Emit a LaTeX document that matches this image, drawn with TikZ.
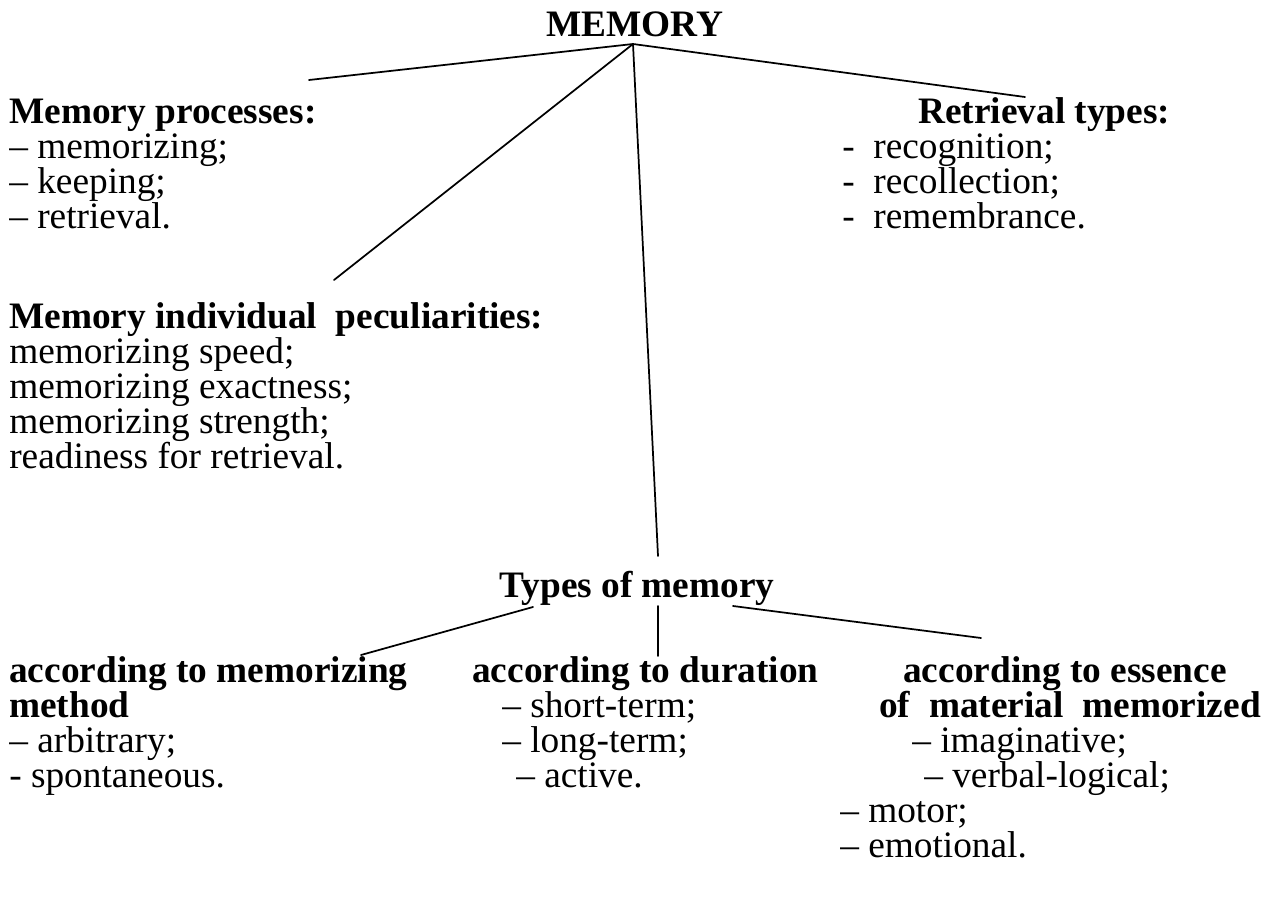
\documentclass[tikz,border=0pt]{standalone}
\usepackage{fontspec}
\setmainfont{Liberation Serif}
\tikzset{
  head/.style={
    anchor=base west,
    inner sep=0pt,
    font=\bfseries
  },
  item/.style={
    anchor=base west,
    inner sep=0pt
  },
  title/.style={
    anchor=base,
    inner sep=0pt,
    font=\bfseries
  },
  link/.style={line width=1.3pt, line cap=round}
}
\newcommand{\gap}{\hspace{0.5em}}

\begin{document}
\fontsize{28}{34}\selectfont
\begin{tikzpicture}[x=0.75pt, y=-0.75pt]
  \useasboundingbox (0,0) rectangle (1279,899);
  \node[title] (memory) at (635,37) {MEMORY};
  \node[head] (proc) at (9,123) {Memory processes:};
  \foreach \txt [count=\i] in {– memorizing;, – keeping;, – retrieval.}
    \node[item] (proc-\i) at (9,123+35*\i) {\txt};
  \node[head] (retr) at (918,123) {Retrieval types:};
  \foreach \txt [count=\i] in {recognition;, recollection;, remembrance.}
    \node[item] (retr-\i) at (842,123+35*\i) {-\gap\txt};
  \node[head] (indiv) at (9,328) {Memory individual\ \ peculiarities:};
  \foreach \txt [count=\i] in {memorizing speed;, memorizing exactness;,
      memorizing strength;, readiness for retrieval.}
    \node[item] (indiv-\i) at (9,328+35*\i) {\txt};
  \node[title] (types) at (637,597) {Types of memory};
  % according to memorizing method
  \node[head] (meth) at (9,682) {according to memorizing};
  \node[head] (meth-0) at (9,717) {method};
  \node[item] (meth-1) at (9,752) {– arbitrary;};
  \node[item] (meth-2) at (9,787) {- spontaneous.};
  % according to duration
  \node[head] (dur) at (472,682) {according to duration};
  \node[item] (dur-1) at (502,717) {– short-term;};
  \node[item] (dur-2) at (502,752) {– long-term;};
  \node[item] (dur-3) at (516,787) {– active.};
  % according to essence
  \node[head] (ess) at (903,682) {according to essence};
  \node[head] (ess-0) at (879,717) {of\ \ material\ \ memorized};
  \node[item] (ess-1) at (912,752) {– imaginative;};
  \node[item] (ess-2) at (924,787) {– verbal-logical;};
  \node[item] (ess-3) at (840,822) {– motor;};
  \node[item] (ess-4) at (840,857) {– emotional.};
  \coordinate (apex) at (633,44);
  \coordinate (proc-end) at (309,80);
  \coordinate (indiv-end) at (334,280);
  \coordinate (types-end) at (658,556);
  \coordinate (retr-end) at (1025,97);
  \coordinate (meth-top) at (533,607);
  \coordinate (meth-end) at (361,655);
  \coordinate (dur-top) at (658,606);
  \coordinate (dur-end) at (658,656);
  \coordinate (ess-top) at (733,606);
  \coordinate (ess-end) at (981,638);
  \draw[link] (apex) -- (proc-end);
  \draw[link] (apex) -- (indiv-end);
  \draw[link] (apex) -- (types-end);
  \draw[link] (apex) -- (retr-end);
  \draw[link] (meth-top) -- (meth-end);
  \draw[link] (dur-top) -- (dur-end);
  \draw[link] (ess-top) -- (ess-end);
\end{tikzpicture}
\end{document}
